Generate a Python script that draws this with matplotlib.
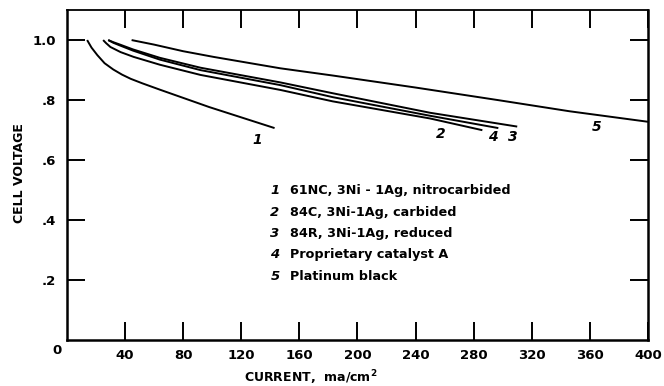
"""Cell voltage vs current density for the five cathode catalysts"""
import matplotlib
matplotlib.use("Agg")
import matplotlib.pyplot as plt  # type: ignore

# Curve data (current in ma/cm2, cell voltage in V)
current_1 = [14, 17, 21, 26, 32, 38, 44, 52, 64, 98, 143]
voltage_1 = [1.0, 0.975, 0.950, 0.923, 0.902, 0.885, 0.871, 0.856, 0.835, 0.777, 0.707]

current_2 = [25, 27, 30, 37, 46, 64, 92, 147, 183, 250, 286]
voltage_2 = [1.0, 0.990, 0.977, 0.960, 0.944, 0.918, 0.884, 0.834, 0.796, 0.739, 0.700]

current_3 = [28.5, 32, 36.6, 45.5, 64, 92, 147, 183, 250, 310]
voltage_3 = [1.0, 0.993, 0.985, 0.969, 0.941, 0.908, 0.859, 0.823, 0.758, 0.712]

current_4 = [28.5, 32, 36.6, 45.5, 64, 92, 147, 183, 250, 297]
voltage_4 = [1.0, 0.991, 0.982, 0.965, 0.935, 0.900, 0.850, 0.810, 0.748, 0.707]

current_5 = [44.6, 60, 80, 101, 130, 147, 183, 240, 297, 346, 400]
voltage_5 = [1.0, 0.985, 0.963, 0.944, 0.920, 0.906, 0.882, 0.842, 0.800, 0.763, 0.728]

curve_numbers = ["1", "2", "3", "4", "5"]
curve_names = ["61NC, 3Ni - 1Ag, nitrocarbided",
               "84C, 3Ni-1Ag, carbided",
               "84R, 3Ni-1Ag, reduced",
               "Proprietary catalyst A",
               "Platinum black"]

x_ticks = [40, 80, 120, 160, 200, 240, 280, 320, 360, 400]
y_ticks = [0.2, 0.4, 0.6, 0.8, 1.0]
y_tick_labels = [".2", ".4", ".6", ".8", "1.0"]

plt.rcParams["font.family"] = ["DejaVu Sans"]
plt.rcParams["font.weight"] = "bold"

fig = plt.figure(figsize=(6.64, 3.86), dpi=100)
ax = fig.add_axes([0.1006, 0.118, 0.8753, 0.856])

for xs, ys in [(current_1, voltage_1), (current_2, voltage_2), (current_3, voltage_3),
               (current_4, voltage_4), (current_5, voltage_5)]:
    ax.plot(xs, ys, color="black", lw=1.4, solid_capstyle="butt", solid_joinstyle="round")

ax.set_xlim(0, 400)
ax.set_ylim(0, 1.1)

ax.set_xticks(x_ticks)
ax.set_xticklabels([str(t) for t in x_ticks])
ax.set_yticks(y_ticks)
ax.set_yticklabels(y_tick_labels)
ax.tick_params(axis="both", direction="in", length=13, width=1.4, labelsize=9.5)
ax.tick_params(axis="x", top=True, pad=6)
ax.tick_params(axis="y", right=True, pad=8)
for label in ax.get_xticklabels() + ax.get_yticklabels():
    label.set_fontweight("bold")

for side in ["left", "bottom", "right", "top"]:
    ax.spines[side].set_linewidth(1.8)
ax.spines["top"].set_linewidth(1.3)

# shared origin label
ax.text(-6.7, -0.035, "0", fontsize=9.5, fontweight="bold", ha="center", va="center",
        clip_on=False)

# numbers next to the curve ends
ax.text(130.8, 0.667, curve_numbers[0], fontsize=10, fontstyle="italic", fontweight="bold",
        ha="center", va="center")
ax.text(257.2, 0.687, curve_numbers[1], fontsize=10, fontstyle="italic", fontweight="bold",
        ha="center", va="center")
ax.text(307, 0.677, curve_numbers[2], fontsize=10, fontstyle="italic", fontweight="bold",
        ha="center", va="center")
ax.text(293, 0.677, curve_numbers[3], fontsize=10, fontstyle="italic", fontweight="bold",
        ha="center", va="center")
ax.text(364.6, 0.710, curve_numbers[4], fontsize=10, fontstyle="italic", fontweight="bold",
        ha="center", va="center")

# key block inside the plot
key_rows = [0.5, 0.427, 0.357, 0.286, 0.214]
for num, name, row in zip(curve_numbers, curve_names, key_rows):
    ax.text(143.3, row, num, fontsize=9.5, fontstyle="italic", fontweight="bold",
            ha="center", va="center")
    ax.text(153.4, row, name, fontsize=9.2, fontweight="bold", ha="left", va="center")

fig.text(0.030, 0.552, "CELL VOLTAGE", rotation=90, fontsize=9, fontweight="bold",
         ha="center", va="center")
fig.text(0.468, 0.021, "CURRENT,  ma/cm$^\\mathbf{2}$", fontsize=9, fontweight="bold",
         ha="center", va="center")

fig.savefig("out.png", dpi=100)
